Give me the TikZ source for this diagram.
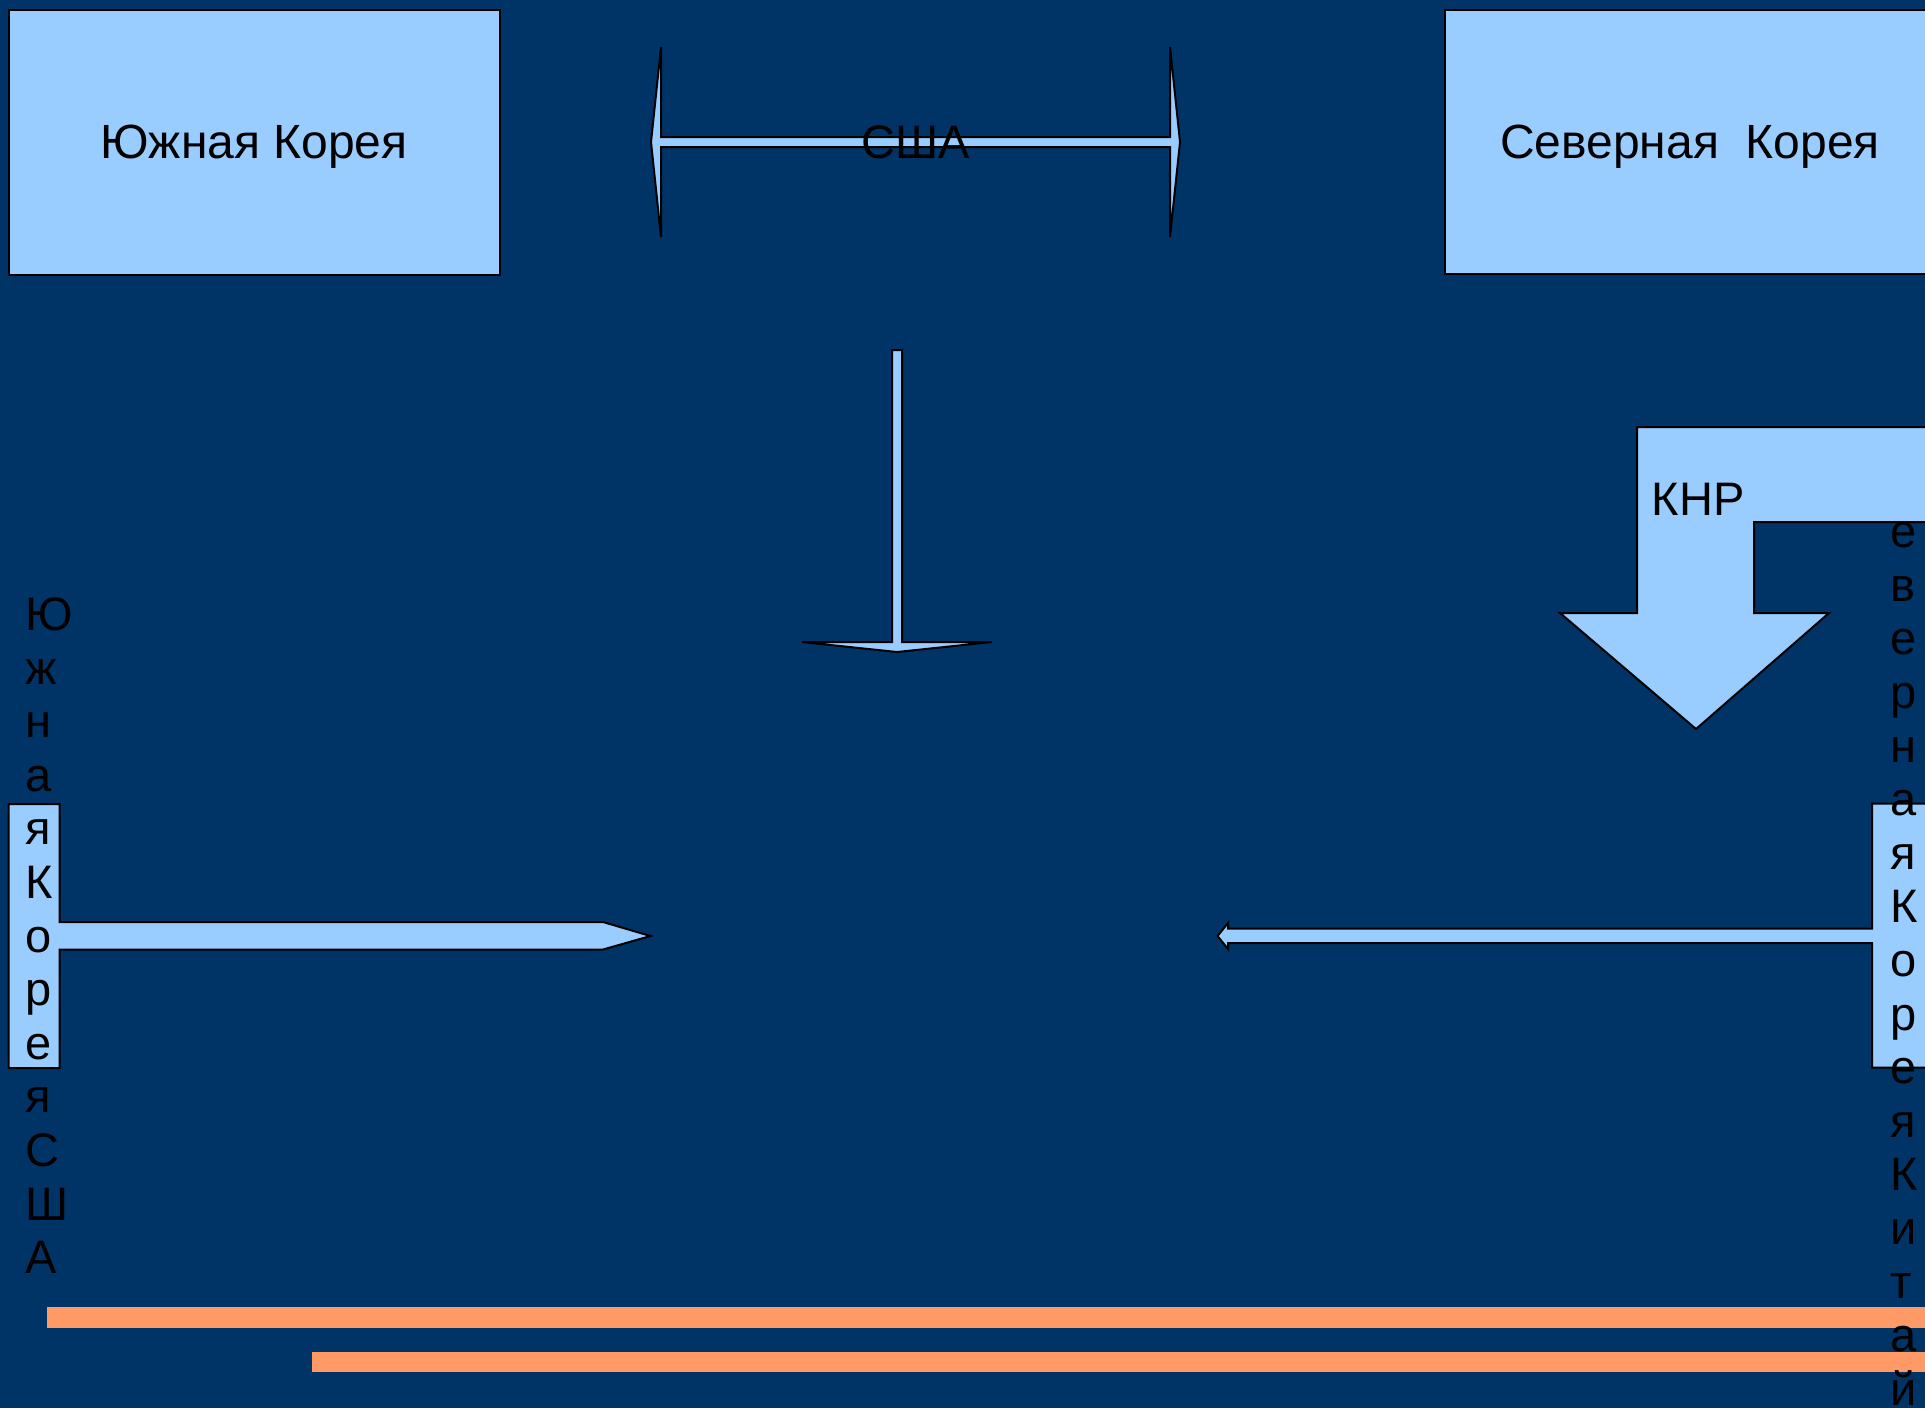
\documentclass[tikz,border=0pt]{standalone}
\usepackage{fontspec}
\setmainfont{Liberation Sans}
\definecolor{bg}{HTML}{003366}
\definecolor{lb}{HTML}{99CCFF}
\definecolor{og}{HTML}{FF9966}
\begin{document}
\begin{tikzpicture}[x=0.5pt,y=-0.5pt,
  shp/.style={fill=lb,draw=black,line width=1pt,line join=miter},
  txt/.style={font=\fontsize{23.5}{26.8}\selectfont,text=black,inner sep=0pt},
  bigtxt/.style={font=\fontsize{24}{27}\selectfont,text=black,inner sep=0pt},
  bar/.style={fill=og}]
\useasboundingbox (0,0) rectangle (1925,1408);
\clip (0,0) rectangle (1925,1408);
\fill[bg] (0,0) rectangle (1925,1408);
% orange bars
\fill[bar] (47,1307) rectangle (1935,1328);
\fill[bar] (312,1352) rectangle (1935,1372);
% top boxes
\draw[shp] (8.5,10) rectangle (500,275);
\node[bigtxt,anchor=base] (sk) at (254,158) {Южная Корея};
\draw[shp] (1445,10) rectangle (1940,274);
\node[bigtxt,anchor=base] (nk) at (1690,158) {Северная\ \ Корея};
% USA double arrow
\draw[shp] (651,142) -- (661,47) -- (661,137) -- (1170,137) -- (1170,47) -- (1180,142)
  -- (1170,237) -- (1170,147) -- (661,147) -- (661,237) -- cycle;
\node[txt,anchor=base] (usa) at (916,158) {США};
% vertical down arrow
\draw[shp] (892,350) -- (902,350) -- (902,642) -- (992,642) -- (897,652) -- (802,642)
  -- (892,642) -- cycle;
% left T arrow
\draw[shp] (8.5,804) -- (59.5,804) -- (59.5,922) -- (603,922) -- (650.5,936) -- (603,949.5)
  -- (59.5,949.5) -- (59.5,1068) -- (8.5,1068) -- cycle;
\foreach \ch [count=\i from 0] in {Ю,ж,н,а,я,К,о,р,е,я,С,Ш,А}
  \node[txt,anchor=base west] (l\i) at (25,630.5+53.6*\i) {\ch};
% right T arrow
\draw[shp] (1940,803.5) -- (1872,803.5) -- (1872,928.5) -- (1228,928.5) -- (1228,923)
  -- (1217.5,936) -- (1228,949) -- (1228,943) -- (1872,943) -- (1872,1067.5)
  -- (1940,1067.5) -- cycle;
\foreach \ch [count=\i from 0] in {С,е,в,е,р,н,а,я,К,о,р,е,я,К,и,т,а,й}
  \node[txt,anchor=base west] (r\i) at (1890,494+53.6*\i) {\ch};
% bent KNR arrow
\draw[shp] (1637,427) -- (1940,427) -- (1940,522) -- (1754,522) -- (1754,613) -- (1829,613)
  -- (1696,729) -- (1560,613) -- (1637,613) -- cycle;
\node[txt,anchor=base] (knr) at (1698,515) {КНР};
\end{tikzpicture}
\end{document}
